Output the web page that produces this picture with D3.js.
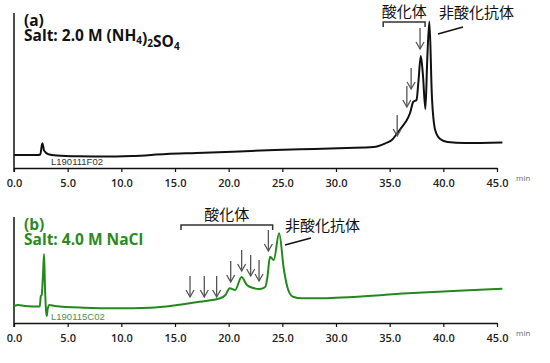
<!DOCTYPE html>
<html>
<head>
<meta charset="utf-8">
<script src="https://cdn.jsdelivr.net/npm/d3@7"></script>
<style>
  body { margin: 0; background: #fff; }
  svg { display: block; }
</style>
</head>
<body>
<svg width="550" height="363"></svg>
<script>
// --- data (time in min, signal in arbitrary units) ---
var ticks = [0, 5, 10, 15, 20, 25, 30, 35, 40, 45];

// (a) 2.0 M (NH4)2SO4
var aTime = [0, 2.2, 2.45, 2.6, 2.65, 2.8, 3.2, 4, 6, 8, 11, 14.2, 17, 20.4, 24.3, 28, 31, 33.5, 34.6, 35.2, 35.7, 36.0, 36.4, 36.6, 36.9, 37.2, 37.5, 37.67, 37.9, 38.1, 38.33, 38.5, 38.7, 38.93, 39.24, 39.7, 40.4, 42, 45.5];
var aSignal = [13, 13, 13.5, 23, 24.7, 17.5, 13.8, 12.5, 11.7, 11.5, 12, 14, 15, 16.3, 18, 19, 20, 21, 24.7, 28, 34.7, 39, 44.7, 48, 55, 66.3, 68, 85, 112, 93, 59, 108, 146.5, 73, 38, 29, 26, 25, 25.5];
var aArrowTime = [35.7, 36.6, 37.0, 37.83];
var aArrowSignal = [31, 60, 78, 118];
var aBracket = [34.4, 38.3];

// (b) 4.0 M NaCl
var bTime = [0, 0.4, 1.0, 2.4, 2.5, 2.58, 2.7, 2.8, 2.88, 2.98, 3.05, 3.12, 3.3, 3.8, 6.5, 9.6, 12.7, 15.2, 17.3, 19.2, 19.7, 20.1, 20.6, 21.2, 21.7, 22.3, 22.9, 23.4, 23.6, 23.85, 24.2, 24.7, 25.15, 25.55, 26.0, 26.8, 28.5, 30.5, 36.7, 42.9, 45.5];
var bSignal = [17, 18, 17, 16.5, 27, 28, 48, 69, 38, 13, 7, 13, 18, 17, 15.3, 14.7, 15.3, 18, 21.3, 24.7, 28, 34.7, 33, 46, 38, 35, 34, 36, 45, 66.3, 63, 89.7, 53, 33, 26.3, 24.7, 24.7, 25.5, 29.7, 33, 34.3];
var bArrowTime = [16.4, 17.73, 18.88, 20.19, 21.21, 22.05, 22.83, 23.7];
var bArrowSignal = [25, 25, 25, 40, 51, 46, 41, 71];
var bBracket = [15.56, 24.1];

var svg = d3.select("svg");
var x = d3.scaleLinear().domain([0, 45]).range([14, 497]);

var jp = "'Noto Sans CJK JP', sans-serif";
var latin = "'Open Sans', 'DejaVu Sans', sans-serif";

function drawPanel(opt) {
  var y = d3.scaleLinear().domain([0, opt.bottom - opt.top]).range([opt.bottom, opt.top]);
  var g = svg.append("g");

  // y axis line
  g.append("line")
    .attr("x1", x(0)).attr("x2", x(0))
    .attr("y1", opt.top).attr("y2", opt.bottom + 4)
    .attr("stroke", "#111").attr("stroke-width", 1.5);

  // x axis
  var ax = g.append("g")
    .attr("transform", "translate(0," + opt.bottom + ")")
    .call(d3.axisBottom(x).tickValues(ticks).tickSize(4).tickSizeOuter(0)
      .tickFormat(d3.format(".1f")));
  ax.select(".domain").attr("stroke", "#111").attr("stroke-width", 1.5);
  ax.selectAll(".tick line").attr("stroke", "#111").attr("stroke-width", 1.2);
  ax.selectAll(".tick text")
    .attr("font-family", latin).attr("font-size", 11).attr("font-weight", 600)
    .attr("fill", "#222").attr("dy", "1.1em");

  g.append("text")
    .attr("x", 516).attr("y", opt.bottom + 13)
    .attr("font-family", latin).attr("font-size", 8).attr("fill", "#666")
    .text("min");

  // trace
  var pts = opt.time.map(function(t, i) { return [t, opt.signal[i]]; });
  g.append("path")
    .datum(pts)
    .attr("fill", "none")
    .attr("stroke", opt.color)
    .attr("stroke-width", 2)
    .attr("stroke-linejoin", "round")
    .attr("d", d3.line()
      .x(function(d) { return x(d[0]); })
      .y(function(d) { return y(d[1]); })
      .curve(d3.curveMonotoneX));

  // sample name
  g.append("text")
    .attr("x", 51).attr("y", opt.bottom - 3)
    .attr("font-family", "'Liberation Sans', Arial, sans-serif").attr("font-size", 9.5)
    .attr("fill", opt.idColor)
    .text(opt.id);

  // arrows
  opt.arrowTime.forEach(function(t, i) {
    var ax0 = x(t), tip = y(opt.arrowSignal[i]) - 1;
    g.append("line")
      .attr("x1", ax0).attr("x2", ax0).attr("y1", tip - 21).attr("y2", tip)
      .attr("stroke", "#555").attr("stroke-width", 1.3);
    g.append("path")
      .attr("d", "M" + (ax0 - 4) + "," + (tip - 7) + "L" + ax0 + "," + tip + "L" + (ax0 + 4) + "," + (tip - 7))
      .attr("fill", "none").attr("stroke", "#555").attr("stroke-width", 1.3);
  });

  // bracket for 酸化体
  var bx0 = x(opt.bracket[0]), bx1 = x(opt.bracket[1]);
  g.append("path")
    .attr("d", "M" + bx0 + "," + (opt.bracketY + 5) + "V" + opt.bracketY + "H" + bx1 + "V" + (opt.bracketY + 5))
    .attr("fill", "none").attr("stroke", "#333").attr("stroke-width", 1.5);
  g.append("text")
    .attr("x", (bx0 + bx1) / 2).attr("y", opt.bracketY - 5)
    .attr("text-anchor", "middle")
    .attr("font-family", jp).attr("font-size", 15).attr("fill", "#111")
    .text("酸化体");

  // non-oxidized label with leader
  g.append("line")
    .attr("x1", opt.lead[0]).attr("y1", opt.lead[1])
    .attr("x2", opt.lead[2]).attr("y2", opt.lead[3])
    .attr("stroke", "#111").attr("stroke-width", 1.5);
  g.append("text")
    .attr("x", opt.nonOx[0]).attr("y", opt.nonOx[1])
    .attr("font-family", jp).attr("font-size", 15).attr("fill", "#111")
    .text("非酸化抗体");

  // titles
  g.append("text")
    .attr("x", 24).attr("y", opt.top + 13)
    .attr("font-family", latin).attr("font-size", 15.5).attr("font-weight", 700)
    .attr("fill", opt.titleColor)
    .text(opt.label);
  var salt = g.append("text")
    .attr("x", 24).attr("y", opt.top + 28)
    .attr("font-family", latin).attr("font-size", 15.5).attr("font-weight", 700)
    .attr("fill", opt.titleColor);
  opt.salt.forEach(function(s) {
    if (s.sub) {
      salt.append("tspan").attr("font-size", 10).attr("dy", 3).text(s.t);
      salt.append("tspan").attr("dy", -3).text("");
    } else {
      salt.append("tspan").text(s.t);
    }
  });
}

drawPanel({
  top: 13, bottom: 168,
  time: aTime, signal: aSignal,
  color: "#111", titleColor: "#111",
  id: "L190111F02", idColor: "#333",
  arrowTime: aArrowTime, arrowSignal: aArrowSignal,
  bracket: aBracket, bracketY: 22,
  lead: [438, 34, 463, 27], nonOx: [439, 18],
  label: "(a)",
  salt: [{t: "Salt: 2.0 M (NH"}, {t: "4", sub: true}, {t: ")"}, {t: "2", sub: true}, {t: "SO"}, {t: "4", sub: true}]
});

drawPanel({
  top: 217, bottom: 323,
  time: bTime, signal: bSignal,
  color: "#23891c", titleColor: "#2a8a1e",
  id: "L190115C02", idColor: "#4f8f4a",
  arrowTime: bArrowTime, arrowSignal: bArrowSignal,
  bracket: bBracket, bracketY: 225,
  lead: [285, 245, 311, 238], nonOx: [285, 231],
  label: "(b)",
  salt: [{t: "Salt: 4.0 M NaCl"}]
});
</script>
</body>
</html>
